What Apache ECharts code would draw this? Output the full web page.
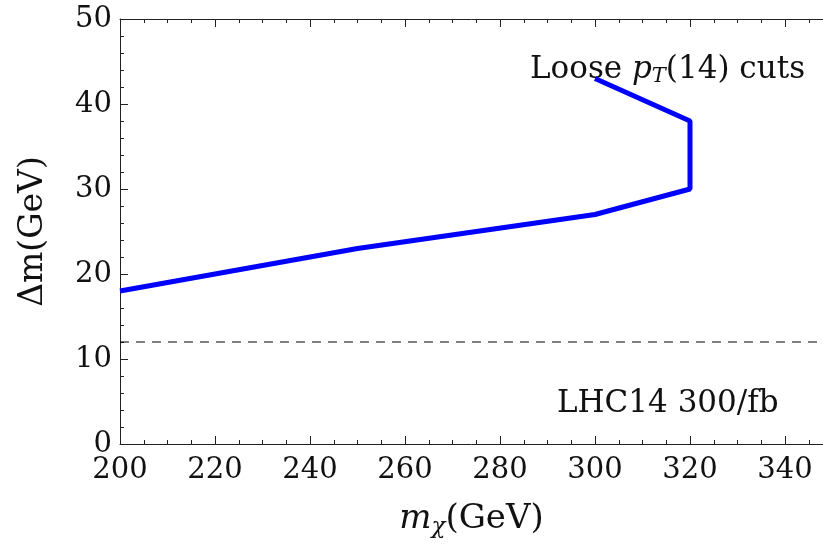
<!DOCTYPE html>
<html>
<head>
<meta charset="utf-8">
<script src="https://cdn.jsdelivr.net/npm/echarts@6/dist/echarts.min.js"></script>
<style>
  html, body { margin: 0; padding: 0; background: #fff; }
  #chart { width: 823px; height: 552px; }
</style>
</head>
<body>
<div id="chart"></div>
<script>
// reach curve, m_chi vs delta m
var mChi = [200, 250, 300, 320, 320, 300];
var deltaM = [18, 23, 27, 30, 38, 43];
// dashed reference line
var refX = [200, 348];
var refY = [12, 12];

var serif = 'DejaVu Serif';

var curve = mChi.map(function (x, i) { return [x, deltaM[i]]; });
var refLine = refX.map(function (x, i) { return [x, refY[i]]; });

var chart = echarts.init(document.getElementById('chart'));

var axisLine = { show: true, lineStyle: { color: '#222', width: 1 } };

var option = {
  animation: false,
  grid: { left: 120, top: 19, right: 0, bottom: 108 },
  xAxis: [
    {
      type: 'value',
      min: 200, max: 348, interval: 20,
      axisLine: axisLine,
      axisTick: { inside: true, length: 8, lineStyle: { color: '#222' } },
      minorTick: { show: true, splitNumber: 4, length: 4, lineStyle: { color: '#222' } },
      splitLine: { show: false },
      axisLabel: { showMaxLabel: false, fontFamily: serif, fontSize: 29, color: '#111', margin: 12 },
      name: '{i|m}{s|χ}{n|(GeV)}',
      nameLocation: 'middle',
      nameGap: 56,
      nameTextStyle: {
        rich: {
          i: { fontFamily: serif, fontStyle: 'italic', fontSize: 34, color: '#111' },
          s: { fontFamily: serif, fontStyle: 'italic', fontSize: 23, color: '#111', padding: [16, 0, 0, 0] },
          n: { fontFamily: serif, fontSize: 34, color: '#111' }
        }
      }
    },
    {
      type: 'value',
      position: 'top',
      min: 200, max: 348, interval: 20,
      axisLine: axisLine,
      axisTick: { inside: true, length: 8, lineStyle: { color: '#222' } },
      minorTick: { show: true, splitNumber: 4, length: 4, lineStyle: { color: '#222' } },
      splitLine: { show: false },
      axisLabel: { show: false }
    }
  ],
  yAxis: {
    type: 'value',
    min: 0, max: 50, interval: 10,
    axisLine: axisLine,
    axisTick: { inside: true, length: 8, lineStyle: { color: '#222' } },
    minorTick: { show: true, splitNumber: 5, length: 4, lineStyle: { color: '#222' } },
    splitLine: { show: false },
    axisLabel: { fontFamily: serif, fontSize: 29, color: '#111', margin: 8 },
    name: 'Δm(GeV)',
    nameLocation: 'middle',
    nameRotate: 90,
    nameGap: 70,
    nameTextStyle: { fontFamily: serif, fontSize: 33, color: '#111' }
  },
  series: [
    {
      type: 'line',
      data: refLine,
      symbol: 'none',
      lineStyle: { color: '#000', width: 1.2, type: [9, 7] },
      silent: true
    },
    {
      type: 'line',
      data: curve,
      symbol: 'none',
      lineStyle: { color: '#0000ff', width: 5 },
      silent: true
    }
  ],
  graphic: [
    {
      type: 'text', left: 530, top: 54,
      style: {
        text: 'Loose {i|p}{s|T}(14) cuts',
        font: '31px "DejaVu Serif"', fill: '#111',
        rich: {
          i: { fontFamily: serif, fontStyle: 'italic', fontSize: 31, fill: '#111' },
          s: { fontFamily: serif, fontStyle: 'italic', fontSize: 21, fill: '#111', padding: [15, 0, 0, 0] }
        }
      }
    },
    {
      type: 'text', left: 557, top: 388,
      style: { text: 'LHC14 300/fb', font: '31px "DejaVu Serif"', fill: '#111' }
    }
  ]
};

chart.setOption(option);
</script>
</body>
</html>
